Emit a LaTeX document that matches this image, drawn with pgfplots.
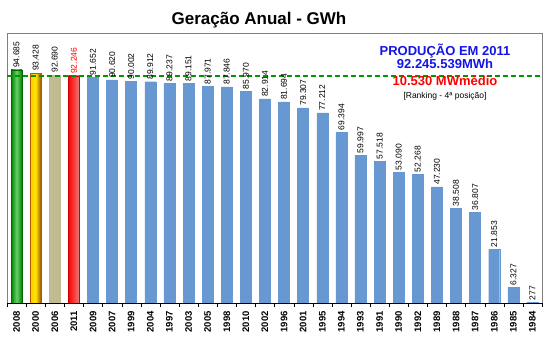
\documentclass[border=0pt]{standalone}
\usepackage{pgfplots}
\pgfplotsset{compat=1.18}
\usepackage{fontspec}
\setmainfont{Liberation Sans}
\definecolor{barblue}{RGB}{104,152,210}
\definecolor{dgreen}{RGB}{0,150,0}
\definecolor{prodblue}{RGB}{20,20,230}
\pgfplotsset{
  mybar/.style={ybar, bar width=11pt, bar shift=0pt, nodes near coords,
    every node near coord/.append style={rotate=90, anchor=west, inner sep=2pt,
      font=\fontsize{8.5}{9}\selectfont, text=black}},
}
\begin{document}
\begin{tikzpicture}
\useasboundingbox (0,0) rectangle (550pt,341pt);
\begin{axis}[
  at={(7pt,38pt)}, anchor=south west, scale only axis,
  width=535pt, height=270pt,
  xmin=-0.5, xmax=27.5, ymin=0, ymax=109700,
  ytick=\empty,
  xtick={0,...,27},
  xticklabels={2008,2000,2006,2011,2009,2007,1999,2004,1997,2003,2005,1998,2010,2002,1996,2001,1995,1994,1993,1991,1990,1992,1989,1988,1987,1986,1985,1984},
  xtick pos=bottom,
  major tick length=0pt,
  xticklabel style={rotate=90, anchor=east, inner sep=0pt,
    font=\bfseries\fontsize{9.5}{10}\selectfont},
  xticklabel shift=8pt,
  extra x ticks={-0.5,0.5,...,27.5},
  extra x tick labels={},
  extra x tick style={major tick length=4pt, tick align=outside, tick style={black}},
  axis line style={draw=gray},
  /pgf/number format/1000 sep={.},
  /pgf/number format/assume math mode=true,
  clip=false,
]
\addplot[mybar, draw=green!40!black, left color=green!50!black, right color=green!50!black, middle color=green!70!black!60!white] coordinates {(0,94685)};
\addplot[mybar, draw=orange!70!black, left color=orange!40!yellow, right color=orange!60!black, middle color=yellow!80!orange] coordinates {(1,93428)};
\addplot[mybar, draw=black!50!olive!40, fill={rgb,255:red,192;green,187;blue,145}] coordinates {(2,92690)};
\addplot[mybar, draw=red!80!black, left color=red, right color={rgb,255:red,232;green,125;blue,125}, every node near coord/.append style={text=red}] coordinates {(3,92246)};
\addplot[mybar, draw=barblue, fill=barblue] coordinates {
(4,91652) (5,90620) (6,90002) (7,89912) (8,89237) (9,89151) (10,87971) (11,87846)
(12,85970) (13,82914) (14,81694) (15,79307) (16,77212) (17,69394) (18,59997) (19,57518)
(20,53090) (21,52268) (22,47230) (23,38508) (24,36807) (25,21853) (26,6327) (27,277)};
\addplot[draw=dgreen, line width=1.6pt, dash pattern=on 5pt off 3pt, forget plot] coordinates {(-0.5,92246) (27.5,92246)};
\draw[black] (rel axis cs:0,0) -- (rel axis cs:1,0);
\end{axis}
\node at (259pt,321pt) {\bfseries\fontsize{17}{20}\selectfont Geração Anual - GWh};
\node[text=prodblue] at (445pt,290pt) {\bfseries\fontsize{13}{15}\selectfont PRODUÇÃO EM 2011};
\node[text=prodblue] at (445pt,277pt) {\bfseries\fontsize{13}{15}\selectfont 92.245.539MWh};
\node[text=red] at (445pt,260pt) {\bfseries\fontsize{13}{15}\selectfont 10.530 MWmédio};
\node[text=black] at (445pt,245pt) {\fontsize{8.5}{10}\selectfont [Ranking - 4ª posição]};
\end{tikzpicture}
\end{document}
